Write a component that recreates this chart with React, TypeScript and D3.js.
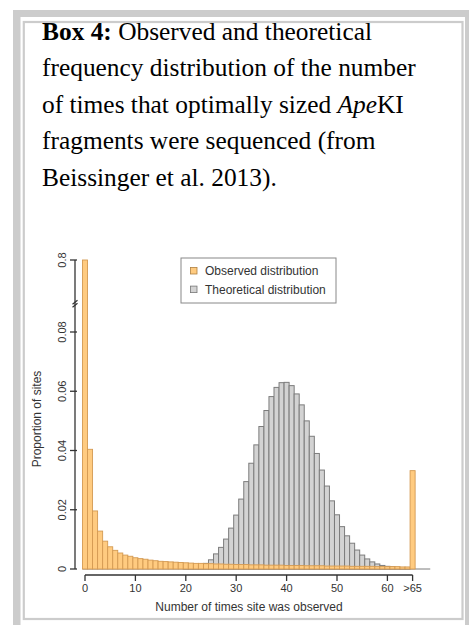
import React from "react";
import * as d3 from "d3";

const captionLines: { bold?: string; parts: { t: string; i?: boolean }[] }[] = [
  { bold: "Box 4:", parts: [{ t: " Observed and theoretical" }] },
  { parts: [{ t: "frequency distribution of the number" }] },
  { parts: [{ t: "of times that optimally sized " }, { t: "Ape", i: true }, { t: "KI" }] },
  { parts: [{ t: "fragments were sequenced (from" }] },
  { parts: [{ t: "Beissinger et al. 2013)." }] },
];

const observed: number[] = [
  0.8, 0.0404, 0.0196, 0.0128, 0.0094, 0.0075, 0.0063, 0.0054, 0.0047, 0.0043,
  0.0038, 0.0035, 0.0033, 0.003, 0.0028, 0.0026, 0.0025, 0.0024, 0.0023, 0.0022,
  0.0021, 0.002, 0.0019, 0.0019, 0.0018, 0.0018, 0.0017, 0.0017, 0.0016, 0.0016,
  0.0015, 0.0015, 0.0015, 0.0014, 0.0014, 0.0014, 0.0013, 0.0013, 0.0013, 0.0013,
  0.0012, 0.0012, 0.0012, 0.0012, 0.0011, 0.0011, 0.0011, 0.0011, 0.001, 0.001,
  0.001, 0.001, 0.001, 0.0009, 0.0009, 0.0009, 0.0009, 0.0009, 0.0008, 0.0008,
  0.0008, 0.0008, 0.0008, 0.0007, 0.0007, 0.0332,
];

const theoretical: number[] = [
  0, 0, 0, 0, 0, 0, 0, 0, 0, 0,
  0, 0, 0, 0, 0, 0, 0, 0, 0, 0,
  0.0002, 0.0004, 0.0007, 0.0012, 0.0019, 0.0031, 0.0051, 0.0073, 0.0101, 0.0138,
  0.0182, 0.0236, 0.0295, 0.0357, 0.0419, 0.0481, 0.0535, 0.0582, 0.0613, 0.0629,
  0.063, 0.0619, 0.0591, 0.0554, 0.05, 0.0448, 0.039, 0.0334, 0.028, 0.023,
  0.0183, 0.0143, 0.0112, 0.0087, 0.0064, 0.0047, 0.0034, 0.0024, 0.0017, 0.0012,
  0.0009, 0.0007, 0.0005, 0.0004, 0.0003, 0, 0, 0, 0,
];

const xTicks: number[] = [0, 10, 20, 30, 40, 50, 60, 65];
const xTickLabels: string[] = ["0", "10", "20", "30", "40", "50", "60", ">65"];
const yTicks: number[] = [0, 0.02, 0.04, 0.06, 0.08, 0.8];
const yTickLabels: string[] = ["0", "0.02", "0.04", "0.06", "0.08", "0.8"];
const legendItems: string[] = ["Observed distribution", "Theoretical distribution"];

const ORANGE = "#FFCB80";
const ORANGE_STROKE = "#D49A52";
const GRAY = "#D3D3D3";
const GRAY_STROKE = "#7C7C7C";
const AXIS = "#333";
const SANS = "'Liberation Sans', Arial, Helvetica, sans-serif";
const SERIF = "'Liberation Serif', 'Times New Roman', Times, serif";

export default function App() {
  const x = d3.scaleLinear().domain([0, 65]).range([85, 412.6]);
  const bw = x(1) - x(0);
  // broken axis: 0..0.08 linear, break, 0.8 on top
  const y = d3.scaleLinear().domain([0, 0.08, 0.8]).range([569, 332, 260]);
  const breakY = y(0.8) + 0.6 * (y(0.08) - y(0.8));
  const axisX = 75;
  const xAxisY = 575;

  return (
    <svg
      width={472}
      height={625}
      style={{ position: "absolute", left: 0, top: 0, background: "#fff" }}
    >
      {/* frame */}
      <rect x={13} y={10} width={7.5} height={615} fill="#CCCCCC" />
      <rect x={13} y={10} width={456} height={7} fill="#CCCCCC" />
      <rect x={465} y={10} width={4} height={615} fill="#CCCCCC" />
      <rect x={23.8} y={22} width={438.7} height={597} fill="none" stroke="#CCCCCC" strokeWidth={2.2} />

      {/* caption */}
      {captionLines.map((ln, i) => (
        <text key={i} x={42} y={39.5 + i * 36.6} fontFamily={SERIF} fontSize={25.4} fill="#000">
          {ln.bold && <tspan fontWeight="bold">{ln.bold}</tspan>}
          {ln.parts.map((p, j) => (
            <tspan key={j} fontStyle={p.i ? "italic" : "normal"}>
              {p.t}
            </tspan>
          ))}
        </text>
      ))}

      {/* baseline of bars */}
      <line
        x1={x(0) - bw / 2}
        x2={x(theoretical.length - 1) + bw / 2}
        y1={y(0)}
        y2={y(0)}
        stroke={GRAY_STROKE}
        strokeWidth={1}
      />

      {/* theoretical bars */}
      {theoretical.map((v, i) =>
        v > 0 ? (
          <rect
            key={"t" + i}
            x={x(i) - bw / 2}
            y={y(v)}
            width={bw}
            height={y(0) - y(v)}
            fill={GRAY}
            stroke={GRAY_STROKE}
            strokeWidth={1}
          />
        ) : null
      )}

      {/* observed bars */}
      {observed.map((v, i) => (
        <rect
          key={"o" + i}
          x={x(i) - bw / 2}
          y={y(v)}
          width={bw}
          height={y(0) - y(v)}
          fill={ORANGE}
          stroke={ORANGE_STROKE}
          strokeWidth={0.9}
        />
      ))}

      {/* y axis */}
      <line x1={axisX} x2={axisX} y1={y(0)} y2={y(0.8)} stroke={AXIS} strokeWidth={1.3} />
      {yTicks.map((t, i) => (
        <g key={"yt" + i}>
          <line x1={axisX - 5} x2={axisX + 2} y1={y(t)} y2={y(t)} stroke={AXIS} strokeWidth={1.3} />
          <text
            transform={`translate(${62.5},${y(t)}) rotate(-90)`}
            textAnchor="middle"
            dy="0.35em"
            fontFamily={SANS}
            fontSize={11}
            fill="#333"
          >
            {yTickLabels[i]}
          </text>
        </g>
      ))}
      {/* axis break mark */}
      <line x1={axisX - 2.5} x2={axisX + 2.5} y1={breakY + 1} y2={breakY - 3} stroke={AXIS} strokeWidth={1.2} />
      <line x1={axisX - 2.5} x2={axisX + 2.5} y1={breakY + 4} y2={breakY} stroke={AXIS} strokeWidth={1.2} />
      <text
        transform={`translate(37,419) rotate(-90)`}
        textAnchor="middle"
        dy="0.35em"
        fontFamily={SANS}
        fontSize={12}
        fill="#333"
      >
        Proportion of sites
      </text>

      {/* x axis */}
      <line x1={x(0)} x2={x(65)} y1={xAxisY} y2={xAxisY} stroke={AXIS} strokeWidth={1.3} />
      {xTicks.map((t, i) => (
        <g key={"xt" + i}>
          <line x1={x(t)} x2={x(t)} y1={xAxisY} y2={xAxisY + 6} stroke={AXIS} strokeWidth={1.3} />
          <text
            x={x(t)}
            y={587.7}
            textAnchor="middle"
            dy="0.35em"
            fontFamily={SANS}
            fontSize={11}
            fill="#333"
          >
            {xTickLabels[i]}
          </text>
        </g>
      ))}
      <text x={249} y={607} textAnchor="middle" dy="0.35em" fontFamily={SANS} fontSize={12} fill="#333">
        Number of times site was observed
      </text>

      {/* legend */}
      <rect x={181} y={258} width={155} height={45} fill="#fff" stroke="#888" strokeWidth={1} />
      {legendItems.map((l, i) => (
        <g key={"lg" + i}>
          <rect
            x={190.5}
            y={267.5 + i * 18.6}
            width={6.5}
            height={6.5}
            fill={i === 0 ? ORANGE : GRAY}
            stroke={i === 0 ? "#B08040" : "#777"}
            strokeWidth={0.8}
          />
          <text x={205} y={270.8 + i * 18.6} dy="0.35em" fontFamily={SANS} fontSize={12} fill="#333">
            {l}
          </text>
        </g>
      ))}
    </svg>
  );
}
